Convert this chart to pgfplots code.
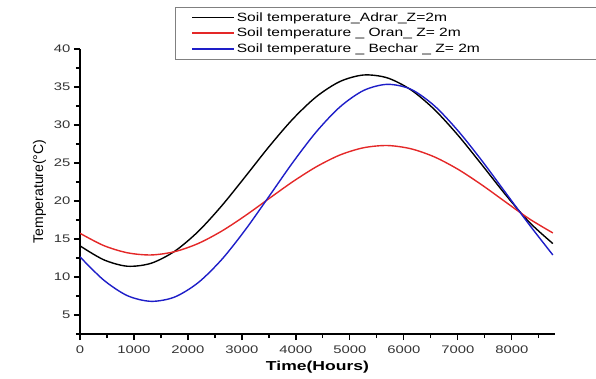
\documentclass[border=0pt]{standalone}
\usepackage{pgfplots}
\pgfplotsset{compat=1.18}
\usepackage{fontspec}
\setmainfont{Liberation Sans}
\newfontfamily\widefont{Liberation Sans}[FakeStretch=1.35]
\newfontfamily\legfont{Liberation Sans}[FakeStretch=1.3]
\definecolor{cred}{RGB}{228,40,40}
\definecolor{cblue}{RGB}{30,30,200}
\begin{document}
\begin{tikzpicture}[x=1pt,y=1pt]
\useasboundingbox (-80,-44) rectangle (516,334);
\begin{axis}[
  at={(0,0)}, anchor=south west,
  scale only axis, width=475pt, height=285pt,
  xmin=0, xmax=8800, ymin=2.5, ymax=40,
  axis x line*=bottom, axis y line*=left,
  axis line style={line width=1.6pt},
  xtick={0,1000,...,8000}, ytick={5,10,...,40},
  minor xtick={500,1500,...,8500}, minor ytick={2.5,7.5,...,37.5},
  tick align=outside,
  major tick length=6pt, minor tick length=4pt,
  every tick/.style={line width=1.2pt, black},
  /pgf/number format/assume math mode=true,
  /pgf/number format/1000 sep={},
  tick label style={font=\widefont\fontsize{11}{13}\selectfont, text=black!80},
  xticklabel style={yshift=-2pt},
  xlabel={\widefont\bfseries Time(Hours)},
  xlabel style={font=\fontsize{13}{15}\selectfont, yshift=-1pt},
  ylabel={Temperature(°C)},
  ylabel style={font=\fontsize{14}{16}\selectfont, yshift=1pt},
  legend style={at={(95pt,327pt)}, anchor=north west, draw=gray, line width=0.8pt,
    font=\legfont\fontsize{12}{15}\selectfont, inner xsep=16pt, inner ysep=3pt,
    row sep=1.5pt},
  legend cell align=left,
  legend image code/.code={\draw[mark repeat=2,mark phase=2,#1] plot coordinates {(0pt,0pt) (21pt,0pt) (42pt,0pt)};},
]
\addplot[black, line width=1.4pt, smooth] coordinates {
(0,14.1) (438,12.27) (876,11.42) (1314,11.80) (1752,13.38) (2190,15.99) (2628,19.39)
(3066,23.24) (3504,27.17) (3942,30.78) (4380,33.73) (4818,35.73) (5256,36.58)
(5694,36.20) (6132,34.62) (6570,32.01) (7008,28.61) (7446,24.76) (7884,20.83)
(8322,17.22) (8760,14.4)};
\addlegendentry{\makebox[345pt][l]{Soil temperature\_Adrar\_Z=2m}}
\addplot[cred, line width=1.4pt, smooth] coordinates {
(0,15.75) (438,14.14) (876,13.19) (1314,12.90) (1752,13.33) (2190,14.41) (2628,16.05)
(3066,18.09) (3504,20.33) (3942,22.54) (4380,24.51) (4818,26.06) (5256,27.01)
(5694,27.30) (6132,26.87) (6570,25.79) (7008,24.15) (7446,22.11) (7884,19.87)
(8322,17.66) (8760,15.8)};
\addlegendentry{Soil temperature \_ Oran\_ Z= 2m}
\addplot[cblue, line width=1.4pt, smooth] coordinates {
(0,12.65) (438,9.6) (876,7.55) (1314,6.8) (1752,7.36) (2190,9.26) (2628,12.32)
(3066,16.24) (3504,20.63) (3942,25.07) (4380,29.12) (4818,32.39) (5256,34.55)
(5694,35.35) (6132,34.7) (6570,32.5) (7008,29.2) (7446,25.3) (7884,21.1)
(8322,16.9) (8760,12.9)};
\addlegendentry{Soil temperature \_ Bechar \_ Z= 2m}
\end{axis}
\end{tikzpicture}
\end{document}
